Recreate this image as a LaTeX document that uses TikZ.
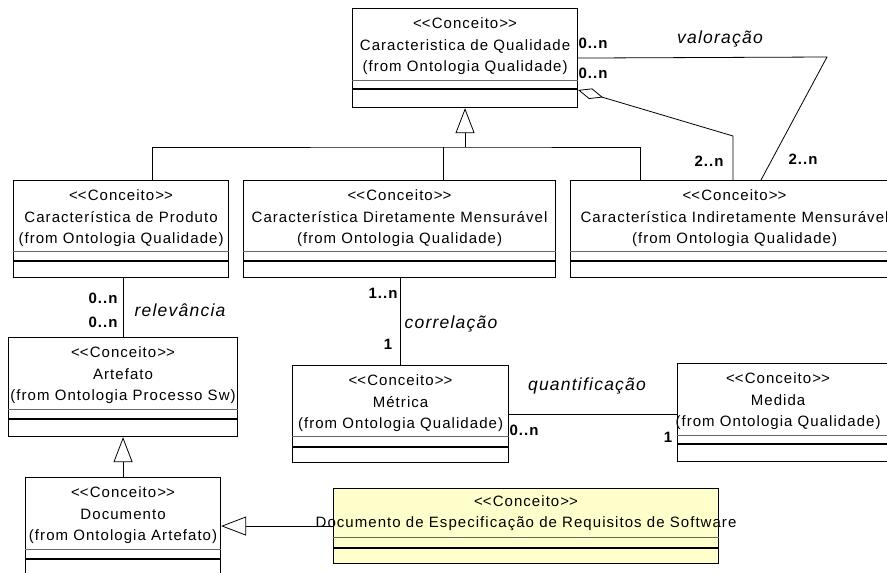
\documentclass[tikz,border=0pt]{standalone}
\usepackage{fontspec}
\setmainfont{Liberation Sans}[LetterSpace=7]
\usetikzlibrary{arrows.meta}
\definecolor{amarelo}{RGB}{255,255,204}
\newcommand{\fclasse}{\fontsize{15}{21.5}\selectfont}
\newcommand{\frotulo}{\fontsize{17.5}{20}\selectfont\itshape}
\newcommand{\estereo}{<\kern0pt<Conceito>\kern0pt>}
\tikzset{
  conceito/.style={draw, fill=white, line width=1.1pt, inner sep=0pt, anchor=north west},
  texto/.style={font=\fclasse, align=center, inner sep=0pt, anchor=north},
  mult/.style={font=\fclasse\bfseries, inner sep=0pt},
  assoc/.style={font=\frotulo, inner sep=0pt},
  liga/.style={line width=0.8pt},
  gen/.style={liga, -{Triangle[open, length=25pt, width=19pt]}},
  agreg/.style={liga, {Diamond[open, length=26pt, width=11pt]}-},
}
% separadores dos compartimentos
\newcommand{\compart}[3]{%
  \draw[line width=0.8pt, black!60] ([yshift=-#2pt]#1.north west) -- ([yshift=-#2pt]#1.north east);
  \draw[line width=1.1pt] ([yshift=-#3pt]#1.north west) -- ([yshift=-#3pt]#1.north east);}
\begin{document}
\begin{tikzpicture}[x=1pt,y=-1pt]
	\useasboundingbox (0,0) rectangle (887,573);
	\clip (0,0) rectangle (887,573);
	% classes
	\node[conceito, minimum width=225pt, minimum height=99pt] (qual) at (352,8) {};
	\node[texto] at ([yshift=-9.5pt]qual.north) {\estereo\\Caracteristica de Qualidade\\(from Ontologia Qualidade)};
	\compart{qual}{72}{81}
	\node[conceito, minimum width=215pt, minimum height=97pt] (prod) at (13,180) {};
	\node[texto] at ([yshift=-9.5pt]prod.north) {\estereo\\Característica de Produto\\(from Ontologia Qualidade)};
	\compart{prod}{71}{81}
	\node[conceito, minimum width=312pt, minimum height=97pt] (dir) at (243,180) {};
	\node[texto] at ([yshift=-9.5pt]dir.north) {\estereo\\Característica Diretamente Mensurável\\(from Ontologia Qualidade)};
	\compart{dir}{71}{81}
	\node[conceito, minimum width=328pt, minimum height=97pt] (ind) at (570,180) {};
	\node[texto] at ([yshift=-9.5pt]ind.north) {\estereo\\Característica Indiretamente Mensurável\\(from Ontologia Qualidade)};
	\compart{ind}{71}{81}
	\node[conceito, minimum width=229pt, minimum height=99pt] (art) at (8,337) {};
	\node[texto] at ([yshift=-9.5pt]art.north) {\estereo\\Artefato\\(from Ontologia Processo Sw)};
	\compart{art}{72}{82}
	\node[conceito, minimum width=216pt, minimum height=97pt] (met) at (292,365) {};
	\node[texto] at ([yshift=-9.5pt]met.north) {\estereo\\Métrica\\(from Ontologia Qualidade)};
	\compart{met}{71}{82}
	\node[conceito, minimum width=215pt, minimum height=98pt] (med) at (677,363) {};
	\node[texto] at ([yshift=-9.5pt, xshift=-7pt]med.north) {\estereo\\Medida\\(from Ontologia Qualidade)};
	\compart{med}{72}{81}
	\node[conceito, minimum width=195pt, minimum height=110pt] (doc) at (25,477) {};
	\node[texto] at ([yshift=-9.5pt]doc.north) {\estereo\\Documento\\(from Ontologia Artefato)};
	\compart{doc}{72}{82}
	\node[conceito, fill=amarelo, minimum width=385pt, minimum height=75pt] (req) at (333,488) {};
	\node[texto] at ([yshift=-7pt]req.north) {\estereo\\Documento de Especificação de Requisitos de Software};
	\compart{req}{49}{60}
	% generalizacoes
	\coordinate (tronco) at (qual.south |- 0,147);
	\draw[gen] (tronco) -- (qual.south);
	\draw[liga] ([xshift=139pt]prod.north west) |- (tronco) -| ([xshift=70pt]ind.north west);
	\draw[liga] ([xshift=200pt]dir.north west) -- ([xshift=200pt]dir.north west |- tronco);
	\draw[gen] (doc.north) -- (art.south);
	\draw[gen] (req.west) -- (req.west -| doc.east);
	% associacoes
	\coordinate (vcanto) at (827,57);
	\coordinate (acanto) at (733,136);
	\draw[liga] (qual.east) -- (vcanto) -- ([xshift=191pt]ind.north west);
	\draw[agreg] ([yshift=-82pt]qual.north east) -- (acanto) -- (acanto |- ind.north);
	\draw[liga] (art.north) -- (art.north |- prod.south);
	\draw[liga] (met.north) -- (met.north |- dir.south);
	\draw[liga] (met.east) -- (met.east -| med.west);
	% rotulos
	\node[mult] at (593,43) {0..n};
	\node[mult] at (593,73) {0..n};
	\node[assoc] at (720,39) {valoração};
	\node[mult] at (709,161) {2..n};
	\node[mult] at (803,159) {2..n};
	\node[mult] at (103,298) {0..n};
	\node[mult] at (103,322) {0..n};
	\node[assoc] at (180,310) {relevância};
	\node[mult] at (383,293) {1..n};
	\node[mult] at (388,344) {1};
	\node[assoc] at (451,324) {correlação};
	\node[assoc] at (587,386) {quantificação};
	\node[mult] at (524,430) {0..n};
	\node[mult] at (668,437) {1};
\end{tikzpicture}
\end{document}
